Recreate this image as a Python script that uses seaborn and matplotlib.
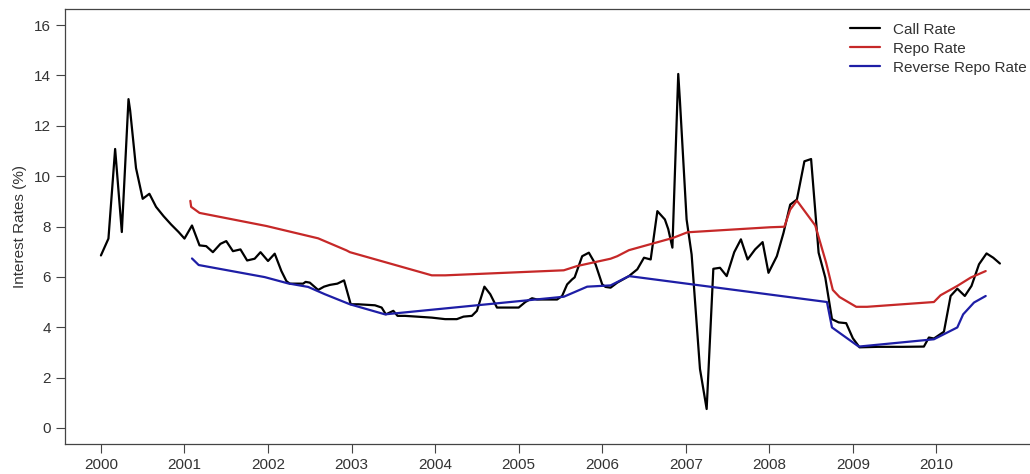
import pandas as pd
import matplotlib
matplotlib.use("Agg")
import matplotlib.pyplot as plt
import seaborn as sns

# call rate (decimal year, %)
call_t = [2000.00, 2000.09, 2000.17, 2000.25, 2000.33, 2000.35, 2000.42, 2000.50, 2000.58, 2000.66,
          2000.75, 2000.84, 2000.93, 2001.00, 2001.09, 2001.18, 2001.26, 2001.34, 2001.43, 2001.50,
          2001.58, 2001.67, 2001.75, 2001.84, 2001.91, 2002.00, 2002.08, 2002.16, 2002.22, 2002.26,
          2002.42, 2002.45, 2002.50, 2002.60, 2002.67, 2002.74, 2002.83, 2002.91, 2002.99, 2003.08,
          2003.28, 2003.36, 2003.41, 2003.50, 2003.55, 2003.64, 2003.78, 2003.96, 2004.12, 2004.26,
          2004.34, 2004.44, 2004.50, 2004.59, 2004.66, 2004.74, 2005.00, 2005.08, 2005.16, 2005.22,
          2005.46, 2005.52, 2005.58, 2005.64, 2005.67, 2005.76, 2005.84, 2005.92, 2006.00, 2006.04,
          2006.10, 2006.18, 2006.32, 2006.42, 2006.50, 2006.58, 2006.66, 2006.75, 2006.79, 2006.84,
          2006.91, 2006.93, 2007.01, 2007.07, 2007.17, 2007.25, 2007.33, 2007.41, 2007.49, 2007.58,
          2007.66, 2007.74, 2007.83, 2007.92, 2007.99, 2008.09, 2008.17, 2008.25, 2008.33, 2008.42,
          2008.50, 2008.59, 2008.67, 2008.75, 2008.83, 2008.92, 2009.00, 2009.08, 2009.30, 2009.60,
          2009.85, 2009.91, 2009.97, 2010.09, 2010.17, 2010.25, 2010.34, 2010.42, 2010.51, 2010.60,
          2010.68, 2010.76]
call_v = [6.85, 7.52, 11.08, 7.78, 13.06, 12.60, 10.32, 9.10, 9.30, 8.78,
          8.41, 8.08, 7.78, 7.52, 8.04, 7.25, 7.22, 6.98, 7.31, 7.42,
          7.02, 7.09, 6.65, 6.72, 6.98, 6.63, 6.92, 6.23, 5.83, 5.73,
          5.73, 5.80, 5.77, 5.48, 5.61, 5.68, 5.73, 5.86, 4.91, 4.91,
          4.87, 4.78, 4.51, 4.65, 4.45, 4.45, 4.42, 4.38, 4.32, 4.32,
          4.42, 4.45, 4.65, 5.61, 5.31, 4.78, 4.78, 5.00, 5.15, 5.10,
          5.10, 5.24, 5.70, 5.90, 5.98, 6.82, 6.96, 6.50, 5.70, 5.60,
          5.57, 5.77, 6.03, 6.30, 6.76, 6.69, 8.61, 8.28, 7.90, 7.16,
          14.06, 13.00, 8.28, 6.89, 2.34, 0.75, 6.32, 6.36, 6.03, 6.98,
          7.49, 6.69, 7.09, 7.38, 6.16, 6.82, 7.75, 8.87, 9.07, 10.59,
          10.68, 6.96, 5.97, 4.32, 4.19, 4.16, 3.56, 3.20, 3.22, 3.22,
          3.23, 3.59, 3.55, 3.82, 5.24, 5.53, 5.24, 5.64, 6.50, 6.93,
          6.76, 6.53]

repo_t = [2001.07, 2001.08, 2001.18, 2001.98, 2002.60, 2002.94, 2002.98, 2003.96, 2004.12, 2005.54,
          2005.70, 2006.10, 2006.18, 2006.32, 2006.85, 2007.02, 2008.01, 2008.18, 2008.25, 2008.33,
          2008.55, 2008.68, 2008.76, 2008.84, 2009.04, 2009.17, 2009.97, 2010.05, 2010.25, 2010.41,
          2010.59]
repo_v = [9.02, 8.78, 8.54, 8.02, 7.53, 7.05, 6.98, 6.06, 6.06, 6.26,
          6.43, 6.72, 6.82, 7.06, 7.55, 7.77, 7.97, 7.99, 8.67, 9.03,
          8.04, 6.56, 5.48, 5.20, 4.81, 4.81, 5.00, 5.27, 5.64, 5.97,
          6.23]

rrepo_t = [2001.09, 2001.17, 2001.96, 2002.24, 2002.48, 2002.68, 2002.98, 2003.40, 2005.54, 2005.82,
           2006.10, 2006.32, 2008.69, 2008.75, 2009.07, 2009.97, 2010.25, 2010.32, 2010.45, 2010.59]
rrepo_v = [6.73, 6.47, 5.99, 5.74, 5.60, 5.31, 4.91, 4.51, 5.21, 5.61,
           5.66, 6.03, 5.00, 3.99, 3.23, 3.52, 3.99, 4.51, 4.98, 5.24]

series_names = ["Call Rate", "Repo Rate", "Reverse Repo Rate"]
colors = ["#000000", "#c62828", "#1e1ea6"]
year_ticks = list(range(2000, 2011))
rate_ticks = list(range(0, 17, 2))

df = pd.concat([
    pd.DataFrame({"year": call_t, "rate": call_v, "series": series_names[0]}),
    pd.DataFrame({"year": repo_t, "rate": repo_v, "series": series_names[1]}),
    pd.DataFrame({"year": rrepo_t, "rate": rrepo_v, "series": series_names[2]}),
], ignore_index=True)

sns.set_style("ticks")
plt.rcParams["font.family"] = ["Liberation Sans", "DejaVu Sans"]

fig = plt.figure(figsize=(10.3, 4.74), dpi=100)
# the right edge of the box falls just outside the image, as in the original
ax = fig.add_axes([65 / 1030, 30 / 474, 970 / 1030, 435 / 474])

sns.lineplot(data=df, x="year", y="rate", hue="series", hue_order=series_names,
             palette=colors, estimator=None, sort=False, linewidth=1.6, ax=ax)

ax.set_xlim(1999.57, 2011.18)
ax.set_ylim(-0.64, 16.64)
ax.set_xticks(year_ticks)
ax.set_yticks(rate_ticks)
ax.set_xlabel("")
ax.set_ylabel("Interest Rates (%)", fontsize=11, color="#333333", labelpad=5)
ax.tick_params(axis="both", direction="out", length=6.5, width=0.8, colors="#444444",
               labelsize=11, labelcolor="#333333")
for s in ax.spines.values():
    s.set_visible(True)
    s.set_color("#444444")
    s.set_linewidth(0.9)

leg = ax.legend(loc="upper left", bbox_to_anchor=(776 / 970, 0.99), frameon=False, fontsize=11,
                handlelength=1.95, handletextpad=0.85, labelspacing=0.33, borderaxespad=0.2)
for t in leg.get_texts():
    t.set_color("#333333")

fig.savefig("out.png", dpi=100)
